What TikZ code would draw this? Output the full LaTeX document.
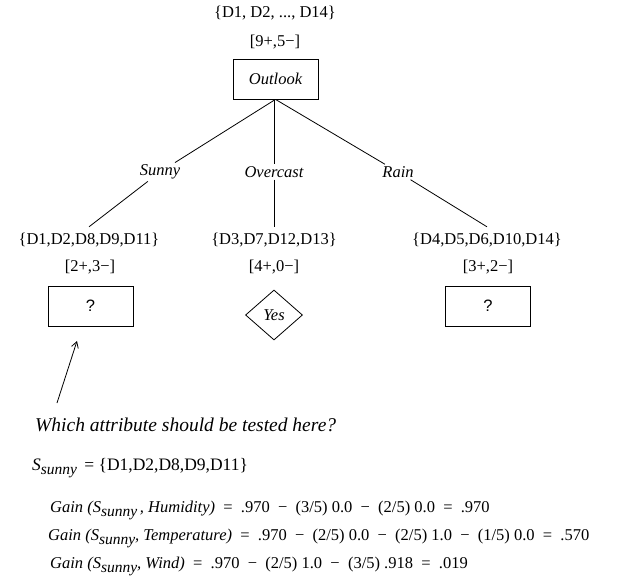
\documentclass[tikz,border=0pt]{standalone}
\usepackage{fontspec}
\setmainfont{Liberation Serif}
\newfontfamily\qmarkfont{Liberation Sans}
\usetikzlibrary{shapes.geometric,arrows.meta}

% italic subscript, lowered below the baseline
\newcommand{\lowsub}[1]{\raisebox{-0.6ex}{\fontsize{15.5}{18}\selectfont\itshape #1}}

\begin{document}
\begin{tikzpicture}[x=1pt,y=-1pt,
    every node/.style={font=\fontsize{16.5}{19}\selectfont},
    txt/.style={inner sep=0pt},
    edgelbl/.style={inner sep=2pt, font=\fontsize{16.5}{19}\selectfont\itshape},
    testbox/.style={draw, line width=0.8pt, minimum width=85pt, minimum height=40pt, inner sep=0pt},
    leaf/.style={draw, line width=0.8pt, diamond, shape aspect=1.15, minimum width=57pt, minimum height=50pt, inner sep=0pt},
    branch/.style={line width=0.8pt},
    calc/.style={anchor=base west, inner sep=0pt, font=\fontsize{16.5}{19}\selectfont}]
  \useasboundingbox (0,0) rectangle (619,588);

  % root
  \node[txt] (rootset) at (275,13) {\{D1, D2, ..., D14\}};
  \node[txt] (rootcnt) at (275,42) {[9+,5−]};
  \node[testbox] (outlook) at (275.5,79) {\itshape Outlook};

  % branch labels
  \node[edgelbl] (sunny) at (160,172) {Sunny};
  \node[edgelbl] (overcast) at (274,172) {Overcast};
  \node[edgelbl] (rain) at (398,172) {Rain};

  % children
  \node[txt, inner sep=6pt] (set1) at (89,240) {\{D1,D2,D8,D9,D11\}};
  \node[txt, inner sep=6pt] (set2) at (274,240) {\{D3,D7,D12,D13\}};
  \node[txt, inner sep=6pt] (set3) at (487,240) {\{D4,D5,D6,D10,D14\}};
  \node[txt] (cnt1) at (90,267) {[2+,3−]};
  \node[txt] (cnt2) at (274,267) {[4+,0−]};
  \node[txt] (cnt3) at (488,267) {[3+,2−]};
  \node[testbox] (q1) at (90.5,306) {\qmarkfont ?};
  \node[leaf] (yes) at (274,315) {\itshape Yes};
  \node[testbox] (q3) at (488,306) {\qmarkfont ?};

  % branches
  \draw[branch] (outlook.south) -- (sunny);
  \draw[branch] (sunny) -- (set1.north);
  \draw[branch] (overcast |- outlook.south) -- (overcast);
  \draw[branch] (overcast) -- (set2.north);
  \draw[branch] (outlook.south) -- (rain);
  \draw[branch] (rain) -- (set3.north);

  % question pointing at the open subtree
  \node[txt, anchor=base west, font=\fontsize{19.5}{23}\selectfont\itshape] (question) at (35,431) {Which attribute should be tested here?};
  \coordinate (qtail) at (57,403);
  \coordinate (qhead) at (77,341);
  \draw[line width=0.8pt, -{Straight Barb[length=6pt,width=7pt]}] (qtail) -- (qhead);

  % information gain for the Sunny subset
  \node[calc, font=\fontsize{17.5}{20}\selectfont] (ssunny) at (32,470) {\textit{S}\lowsub{sunny}\,\ = \{D1,D2,D8,D9,D11\}};
  \node[calc] (g1) at (50,512) {\textit{Gain (S}\lowsub{sunny}\,\textit{, Humidity)}\enspace = \ .970 \ − \ (3/5) 0.0 \ − \ (2/5) 0.0 \ = \ .970};
  \node[calc] (g2) at (48,540) {\textit{Gain (S}\lowsub{sunny}\textit{, Temperature)}\enspace = \ .970 \ − \ (2/5) 0.0 \ − \ (2/5) 1.0 \ − \ (1/5) 0.0 \ = \ .570};
  \node[calc] (g3) at (50,568) {\textit{Gain (S}\lowsub{sunny}\textit{, Wind)}\enspace = \ .970 \ − \ (2/5) 1.0 \ − \ (3/5) .918 \ = \ .019};
\end{tikzpicture}
\end{document}
